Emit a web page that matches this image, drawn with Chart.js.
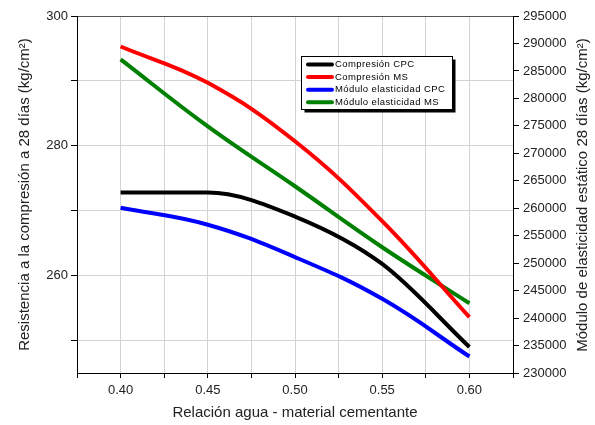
<!DOCTYPE html>
<html>
<head>
<meta charset="utf-8">
<script src="https://cdn.jsdelivr.net/npm/chart.js@4.4.0/dist/chart.umd.min.js"></script>
<style>
  body { margin: 0; background: #fff; }
  #wrap { width: 595px; height: 425px; }
</style>
</head>
<body>
<div id="wrap"><canvas id="chart"></canvas></div>
<script>
// water / cementitious material ratio
const ratios = [0.40, 0.45, 0.50, 0.55, 0.60];

// left axis, kg/cm2
const compresionCPC = [272.8, 272.8, 269.1, 261.8, 249.0];
const compresionMS = [295.3, 289.7, 280.7, 268.4, 253.6];

// right axis, kg/cm2
const moduloCPC = [260100, 257000, 251100, 243500, 233000];
const moduloMS = [287100, 274900, 264000, 252900, 242700];

const seriesLabels = ['Compresión CPC', 'Compresión MS', 'Módulo elasticidad CPC', 'Módulo elasticidad MS'];
const seriesColors = ['#000000', '#ff0000', '#0000ff', '#008000'];

const FONT = '"Liberation Sans", Arial, sans-serif';
const pts = (arr) => arr.map((v, i) => ({ x: ratios[i], y: v }));

function makeSet(i, data, axis, monotone) {
  const ds = {
    label: seriesLabels[i],
    data: pts(data),
    yAxisID: axis,
    borderColor: seriesColors[i],
    backgroundColor: seriesColors[i],
    borderWidth: 4,
    pointRadius: 0,
    fill: false
  };
  if (monotone) ds.cubicInterpolationMode = 'monotone';
  else ds.tension = 0.4;
  return ds;
}

const boxLegend = {
  id: 'boxLegend',
  afterDatasetsDraw(chart) {
    const ctx = chart.ctx;
    const x = 301.5, y = 56.5, w = 151, h = 53;
    ctx.save();
    ctx.fillStyle = '#000';
    ctx.fillRect(x + 3, y + 3, w, h);
    ctx.fillStyle = '#fff';
    ctx.fillRect(x, y, w, h);
    ctx.strokeStyle = '#000';
    ctx.lineWidth = 1;
    ctx.strokeRect(x, y, w, h);
    ctx.font = '9.5px ' + FONT;
    ctx.textBaseline = 'middle';
    try { ctx.letterSpacing = '0.4px'; } catch (e) {}
    chart.data.datasets.forEach((ds, i) => {
      const ly = 64.5 + i * 12.6;
      ctx.strokeStyle = ds.borderColor;
      ctx.lineWidth = 4;
      ctx.lineCap = 'round';
      ctx.beginPath();
      ctx.moveTo(308, ly);
      ctx.lineTo(332, ly);
      ctx.stroke();
      ctx.fillStyle = '#000';
      ctx.fillText(ds.label, 335, ly);
    });
    ctx.restore();
  }
};

const rightTitle = {
  id: 'rightTitle',
  afterDraw(chart) {
    const ctx = chart.ctx;
    ctx.save();
    ctx.translate(583, 195);
    ctx.rotate(-Math.PI / 2);
    ctx.font = '15px ' + FONT;
    ctx.fillStyle = '#222';
    ctx.textAlign = 'center';
    ctx.textBaseline = 'middle';
    ctx.fillText('Módulo de elasticidad estático 28 días (kg/cm²)', 0, 0);
    ctx.restore();
  }
};

new Chart(document.getElementById('chart'), {
  type: 'line',
  data: {
    datasets: [
      makeSet(0, compresionCPC, 'y', true),
      makeSet(1, compresionMS, 'y', false),
      makeSet(2, moduloCPC, 'y1', false),
      makeSet(3, moduloMS, 'y1', false)
    ]
  },
  options: {
    responsive: true,
    maintainAspectRatio: false,
    animation: false,
    layout: { padding: { top: 16, left: 0, right: 0, bottom: 0 } },
    plugins: { legend: { display: false }, tooltip: { enabled: false } },
    scales: {
      x: {
        type: 'linear',
        min: 0.375,
        max: 0.625,
        afterFit: (s) => { s.height = 52; },
        ticks: {
          stepSize: 0.025,
          color: '#222',
          font: { family: FONT, size: 13 },
          padding: 5,
          maxRotation: 0,
          autoSkip: false,
          callback: (v) => {
            const k = v * 20;
            return Math.abs(k - Math.round(k)) < 1e-6 ? v.toFixed(2) : '';
          }
        },
        grid: { color: '#d3d3d3', tickColor: '#000', tickLength: 5 },
        border: { color: '#000', width: 1 },
        title: {
          display: true,
          text: 'Relación agua - material cementante',
          color: '#222',
          font: { family: FONT, size: 15 },
          padding: { top: 0, bottom: 3 }
        }
      },
      y: {
        position: 'left',
        min: 245,
        max: 300,
        afterFit: (s) => { s.width = 77; },
        ticks: {
          stepSize: 10,
          includeBounds: false,
          color: '#222',
          font: { family: FONT, size: 13 },
          padding: 3,
          callback: (v) => (v % 20 === 0 ? String(v) : '')
        },
        grid: {
          color: (c) => (c.tick && c.tick.value === 300 ? '#555' : '#d3d3d3'),
          tickColor: '#000',
          tickLength: 6
        },
        border: { color: '#000', width: 1 },
        title: {
          display: true,
          text: 'Resistencia a la compresión a 28 días (kg/cm²)',
          color: '#222',
          font: { family: FONT, size: 15 },
          padding: { top: 16, bottom: 0 }
        }
      },
      y1: {
        position: 'right',
        min: 230000,
        max: 295000,
        afterFit: (s) => { s.width = 82; },
        ticks: {
          stepSize: 2500,
          color: '#222',
          font: { family: FONT, size: 13 },
          padding: 4,
          callback: (v) => (v % 5000 === 0 ? String(v) : '')
        },
        grid: { drawOnChartArea: false, tickColor: '#000', tickLength: 6 },
        border: { color: '#000', width: 1 }
      }
    }
  },
  plugins: [boxLegend, rightTitle]
});
</script>
</body>
</html>
